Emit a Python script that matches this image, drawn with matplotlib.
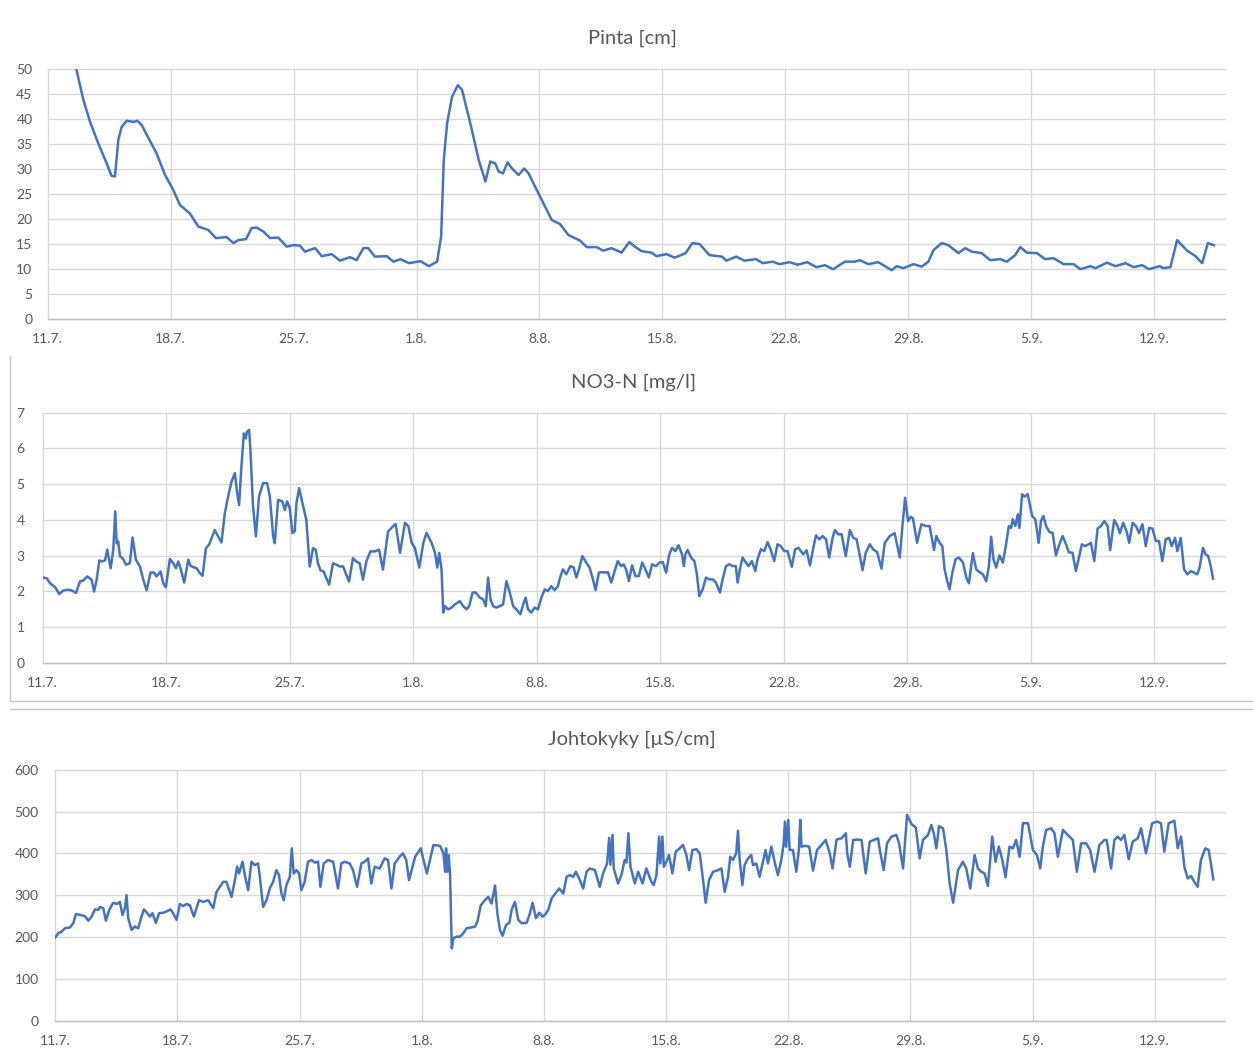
import matplotlib.pyplot as plt
from matplotlib.lines import Line2D

# days counted from 11.7.
tick_days = [0, 7, 14, 21, 28, 35, 42, 49, 56, 63]
tick_labels = ['11.7.', '18.7.', '25.7.', '1.8.', '8.8.', '15.8.', '22.8.', '29.8.', '5.9.', '12.9.']

pinta_day = [1.61, 2.03, 2.41, 2.88, 3.36, 3.64, 3.83, 4.02, 4.21, 4.50, 4.88, 5.10, 5.35, 5.64,
             6.20, 6.68, 7.15, 7.53, 8.10, 8.58, 9.15, 9.58, 10.19, 10.57, 10.85, 11.29, 11.61,
             11.90, 12.28, 12.66, 13.13, 13.61, 13.98, 14.36, 14.65, 15.22, 15.60, 16.17, 16.64,
             17.21, 17.59, 17.97, 18.25, 18.63, 19.30, 19.68, 20.09, 20.56, 21.23, 21.70, 22.17,
             22.40, 22.55, 22.74, 23.02, 23.35, 23.59, 24.06, 24.54, 24.92, 25.20, 25.48, 25.67,
             25.92, 26.18, 26.43, 26.81, 27.13, 27.38, 27.66, 28.23, 28.70, 29.17, 29.65, 30.31,
             30.69, 31.25, 31.63, 32.10, 32.67, 33.11, 33.43, 33.81, 34.38, 34.66, 35.23, 35.70,
             36.32, 36.70, 37.12, 37.68, 38.40, 38.63, 39.20, 39.67, 40.33, 40.71, 41.28, 41.66,
             42.23, 42.70, 43.24, 43.77, 44.25, 44.72, 45.39, 45.96, 46.24, 46.72, 47.29, 48.05,
             48.33, 48.71, 49.29, 49.76, 50.14, 50.43, 50.90, 51.28, 51.85, 52.23, 52.61, 53.18,
             53.66, 54.23, 54.61, 55.08, 55.37, 55.75, 56.32, 56.79, 57.27, 57.84, 58.41, 58.79,
             59.36, 59.65, 60.31, 60.79, 61.36, 61.83, 62.31, 62.69, 63.32, 63.51, 63.92, 64.30,
             64.87, 65.35, 65.73, 66.05, 66.40]
pinta_cm = [50.2, 43.8, 39.4, 35.1, 31.1, 28.6, 28.5, 35.8, 38.4, 39.6, 39.4, 39.6, 38.8, 36.8,
            33.1, 28.8, 25.8, 22.8, 21.1, 18.5, 17.8, 16.2, 16.4, 15.2, 15.8, 16.0, 18.2,
            18.3, 17.5, 16.2, 16.3, 14.5, 14.8, 14.7, 13.5, 14.2, 12.6, 13.0, 11.7,
            12.4, 11.8, 14.2, 14.2, 12.5, 12.6, 11.5, 12.0, 11.2, 11.6, 10.6, 11.5,
            16.5, 31.8, 39.1, 44.4, 46.7, 45.8, 39.1, 31.8, 27.5, 31.5, 31.1, 29.5,
            29.1, 31.3, 30.1, 28.8, 30.1, 29.1, 27.1, 23.1, 19.8, 19.0, 16.8, 15.7,
            14.4, 14.4, 13.7, 14.2, 13.3, 15.4, 14.5, 13.6, 13.3, 12.6, 13.0, 12.3,
            13.2, 15.2, 15.0, 12.8, 12.5, 11.7, 12.5, 11.7, 12.0, 11.2, 11.5, 11.0,
            11.4, 10.9, 11.4, 10.4, 10.8, 10.0, 11.5, 11.5, 11.8, 11.0, 11.4, 9.8,
            10.6, 10.2, 11.0, 10.5, 11.5, 13.8, 15.2, 14.8, 13.2, 14.2, 13.5, 13.2,
            11.8, 12.0, 11.5, 12.8, 14.4, 13.3, 13.2, 12.0, 12.2, 11.0, 11.0, 10.0,
            10.6, 10.2, 11.3, 10.6, 11.2, 10.4, 10.8, 10.0, 10.6, 10.2, 10.4, 15.8,
            13.7, 12.6, 11.2, 15.2, 14.8]

no3_day = [0.00, 0.23, 0.42, 0.70, 0.94, 1.17, 1.45, 1.64, 1.89, 2.11, 2.30, 2.53, 2.77, 2.91,
           3.06, 3.21, 3.34, 3.53, 3.66, 3.85, 4.00, 4.11, 4.19, 4.28, 4.38, 4.53, 4.72, 4.94,
           5.09, 5.28, 5.51, 5.70, 5.89, 6.11, 6.30, 6.45, 6.68, 6.83, 6.98, 7.21, 7.40, 7.55,
           7.68, 7.81, 8.02, 8.25, 8.38, 8.53, 8.72, 8.91, 9.06, 9.25, 9.43, 9.57, 9.75, 9.94,
           10.13, 10.32, 10.51, 10.70, 10.89, 11.02, 11.13, 11.26, 11.40, 11.51, 11.58, 11.70,
           11.77, 11.92, 12.08, 12.26, 12.49, 12.72, 12.87, 13.06, 13.15, 13.34, 13.58, 13.72,
           13.85, 14.00, 14.15, 14.28, 14.38, 14.53, 14.72, 14.94, 15.13, 15.32, 15.47, 15.60,
           15.74, 15.92, 16.08, 16.23, 16.45, 16.64, 16.83, 17.02, 17.25, 17.36, 17.58, 17.77,
           17.96, 18.15, 18.34, 18.57, 18.81, 19.06, 19.28, 19.57, 19.85, 20.00,
           20.25, 20.53, 20.72, 20.91, 21.09, 21.34, 21.57, 21.75, 22.04, 22.23, 22.36, 22.47,
           22.60, 22.70, 22.79, 22.98, 23.17, 23.36, 23.64, 23.83, 24.02, 24.17, 24.36, 24.54,
           24.77, 24.96, 25.11, 25.24, 25.38, 25.52, 25.71, 25.90, 26.09, 26.28, 26.47, 26.66,
           26.84, 27.07, 27.26, 27.37, 27.50, 27.69, 27.88, 28.07, 28.26, 28.45, 28.63, 28.82,
           29.01, 29.20, 29.29, 29.48, 29.67, 29.90, 30.09, 30.24, 30.39, 30.58, 30.80, 30.99,
           31.18, 31.33, 31.52, 31.71, 31.90, 32.03, 32.22, 32.41, 32.59, 32.78, 32.91, 33.06,
           33.22, 33.40, 33.59, 33.78, 33.97, 34.20, 34.35, 34.53, 34.76, 34.95, 35.14, 35.33,
           35.51, 35.67, 35.85, 36.04, 36.23, 36.33, 36.42, 36.55, 36.74, 36.93, 37.06, 37.21,
           37.40, 37.59, 37.78, 37.97, 38.15, 38.38, 38.53, 38.72, 38.91, 39.10, 39.28, 39.38,
           39.51, 39.66, 39.85, 40.00, 40.19, 40.38, 40.51, 40.70, 40.89, 41.08, 41.26, 41.45,
           41.64, 41.83, 42.02, 42.21, 42.45, 42.64, 42.83,
           43.10, 43.29, 43.48, 43.67, 43.82, 44.01, 44.20, 44.39, 44.57, 44.76, 44.89, 45.08,
           45.27, 45.51, 45.74, 45.93, 46.12, 46.31, 46.46, 46.64, 46.87, 47.06, 47.29, 47.53,
           47.72, 48.00, 48.28, 48.57, 48.72, 48.87, 49.04, 49.19, 49.32, 49.55, 49.79, 50.04,
           50.26, 50.51, 50.64, 50.83, 50.98, 51.11, 51.26, 51.39, 51.55, 51.73, 51.92, 52.15,
           52.34, 52.49, 52.71, 52.90, 53.09, 53.28, 53.47, 53.62, 53.75, 53.88, 54.03, 54.22,
           54.41, 54.56, 54.75, 54.88, 54.97, 55.12, 55.26, 55.35, 55.50, 55.63, 55.82, 56.07,
           56.25, 56.44, 56.57, 56.71, 56.86, 57.05, 57.23, 57.42, 57.61, 57.80, 57.99, 58.14,
           58.36, 58.55, 58.70, 58.89, 59.08, 59.27, 59.40, 59.59, 59.78, 59.97, 60.16, 60.35,
           60.49, 60.72, 60.91, 61.04, 61.23, 61.42, 61.57, 61.76, 61.95, 62.13, 62.32, 62.51,
           62.70, 62.89, 63.08, 63.26, 63.45, 63.64, 63.83, 63.98, 64.17, 64.30, 64.49, 64.68,
           64.87, 65.06, 65.24, 65.43, 65.56, 65.75, 65.90, 66.05, 66.19, 66.32]
no3_mgl = [2.39, 2.37, 2.23, 2.12, 1.93, 2.03, 2.05, 2.03, 1.96, 2.28, 2.31, 2.42, 2.33, 2.00,
           2.33, 2.87, 2.84, 2.87, 3.17, 2.65, 3.17, 4.24, 3.35, 3.40, 2.98, 2.93, 2.75, 2.79,
           3.51, 2.89, 2.70, 2.33, 2.03, 2.53, 2.53, 2.42, 2.56, 2.23, 2.12, 2.91, 2.79, 2.65,
           2.84, 2.65, 2.25, 2.89, 2.72, 2.68, 2.65, 2.51, 2.44, 3.21, 3.31, 3.49, 3.72, 3.54,
           3.37, 4.19, 4.66, 5.07, 5.31, 4.75, 4.42, 5.49, 6.42, 6.28, 6.47, 6.52,
           5.96, 4.38, 3.54, 4.66, 5.03, 5.03, 4.66, 3.54, 3.35, 4.56, 4.52, 4.28,
           4.52, 4.33, 3.63, 3.68, 4.47, 4.89, 4.47, 4.00, 2.70, 3.21, 3.17, 2.79,
           2.59, 2.56, 2.37, 2.19, 2.79, 2.75, 2.70, 2.70, 2.42, 2.28, 2.93, 2.84,
           2.79, 2.33, 2.84, 3.12, 3.12, 3.17, 2.61, 3.68, 3.82, 3.89,
           3.08, 3.92, 3.83, 3.36, 3.22, 2.67, 3.36, 3.64, 3.36, 3.08, 2.67, 3.08,
           2.62, 1.41, 1.59, 1.50, 1.55, 1.64, 1.73, 1.59, 1.50, 1.59, 1.97, 1.97,
           1.83, 1.78, 1.59, 2.39, 1.78, 1.59, 1.55, 1.59, 1.64, 2.29, 1.97, 1.59,
           1.50, 1.36, 1.69, 1.83, 1.50, 1.41, 1.55, 1.50, 1.83, 2.06, 2.01, 2.15,
           2.04, 2.15, 2.34, 2.62, 2.48, 2.71, 2.67, 2.39, 2.62, 2.99, 2.81, 2.67,
           2.34, 2.04, 2.53, 2.54, 2.53, 2.54, 2.25, 2.57, 2.85, 2.71, 2.76, 2.62,
           2.29, 2.73, 2.43, 2.43, 2.81, 2.57, 2.39, 2.76, 2.71, 2.81, 2.82, 2.53,
           3.04, 3.22, 3.13, 3.29, 3.04, 2.71, 3.04, 3.16, 2.95, 2.85, 2.53, 1.87,
           2.06, 2.39, 2.34, 2.34, 2.25, 1.97, 2.34, 2.71, 2.76, 2.71, 2.71, 2.25,
           2.62, 2.95, 2.81, 2.71, 2.85, 2.57, 2.90, 3.18, 3.13, 3.38, 3.16, 2.85,
           3.32, 3.27, 3.13, 3.13, 2.69, 3.18, 3.22,
           3.04, 3.15, 2.73, 3.22, 3.57, 3.46, 3.55, 3.46, 2.95, 3.50, 3.72, 3.60,
           3.60, 2.99, 3.72, 3.50, 3.46, 2.99, 2.60, 3.08, 3.32, 3.18, 3.10, 2.64,
           3.36, 3.55, 3.63, 2.95, 3.83, 4.62, 3.97, 4.09, 4.04, 3.36, 3.88, 3.83,
           3.83, 3.16, 3.55, 3.36, 3.27, 2.62, 2.29, 2.06, 2.53, 2.90, 2.95, 2.81,
           2.39, 2.23, 3.07, 2.62, 2.54, 2.48, 2.29, 2.71, 3.53, 2.90, 2.67, 3.01,
           2.81, 3.22, 3.83, 3.78, 4.02, 3.83, 4.16, 3.78, 4.72, 4.65, 4.72, 4.11,
           4.02, 3.36, 3.97, 4.11, 3.83, 3.66, 3.64, 3.01, 3.32, 3.55, 3.32, 3.10,
           3.08, 2.57, 2.90, 3.32, 3.27, 3.32, 3.36, 2.85, 3.76, 3.83, 3.97, 3.83,
           3.16, 4.00, 3.83, 3.63, 3.92, 3.69, 3.36, 3.92, 3.83, 3.64, 3.88, 3.27,
           3.78, 3.76, 3.41, 3.41, 2.85, 3.46, 3.50, 3.27, 3.50, 3.13, 3.50, 2.62,
           2.48, 2.57, 2.53, 2.48, 2.67, 3.22, 3.04, 2.99, 2.71, 2.36]

ec_day = [0.00, 0.17, 0.36, 0.55, 0.84, 1.03, 1.18, 1.41, 1.70, 1.89, 2.08, 2.27, 2.46, 2.56,
          2.75, 2.90, 3.09, 3.32, 3.55, 3.70, 3.85, 3.99, 4.08, 4.18, 4.37, 4.56, 4.75, 4.94,
          5.08, 5.27, 5.42, 5.57, 5.76, 5.95, 6.18, 6.37, 6.60, 6.75, 6.95, 7.14, 7.33, 7.52,
          7.71, 7.94, 8.09, 8.24, 8.47, 8.76, 9.05, 9.24, 9.43, 9.62, 9.81, 10.10, 10.29, 10.42,
          10.53, 10.73, 10.86, 11.05, 11.24, 11.43, 11.62, 11.72, 11.91, 12.10, 12.29, 12.48,
          12.67, 12.82, 12.96, 13.09, 13.24, 13.44, 13.55, 13.66, 13.82, 13.97, 14.10, 14.29,
          14.48, 14.68, 14.87, 15.06, 15.19, 15.38, 15.63, 15.92, 16.20, 16.39, 16.58, 16.87,
          17.06, 17.29, 17.54, 17.73, 17.92, 18.11, 18.30, 18.59, 18.87, 19.07, 19.26, 19.45,
          19.73, 19.92, 20.11, 20.27,
          20.62, 20.94, 21.29, 21.67, 22.05, 22.24, 22.34, 22.39, 22.47, 22.54, 22.62, 22.72,
          22.81, 23.00, 23.19, 23.38, 23.57, 23.86, 24.05, 24.19, 24.38, 24.62, 24.81, 25.00,
          25.20, 25.33, 25.48, 25.63, 25.83, 26.02, 26.15, 26.34, 26.53, 26.72, 27.01, 27.20,
          27.35, 27.54, 27.73, 27.92, 28.06, 28.25, 28.44, 28.63, 28.88, 29.11, 29.30, 29.49,
          29.68, 29.83, 30.06, 30.25, 30.44, 30.63, 30.92, 31.20, 31.39, 31.62, 31.74, 31.81,
          31.93, 32.00, 32.25, 32.44, 32.63, 32.73, 32.84, 32.96, 33.21, 33.40, 33.65, 33.87,
          34.16, 34.29, 34.45, 34.60, 34.67, 34.79, 34.87, 35.02, 35.17, 35.36, 35.55, 35.78,
          35.97, 36.16, 36.32, 36.51, 36.74, 36.93, 37.12, 37.27, 37.46, 37.69, 37.98, 38.17,
          38.36, 38.55, 38.68, 38.83, 39.02, 39.12, 39.21, 39.37, 39.50, 39.69, 39.88, 39.98,
          40.17, 40.36, 40.55, 40.70, 40.84, 41.03, 41.22, 41.41, 41.60, 41.73, 41.81, 41.88,
          42.00, 42.08, 42.27, 42.46, 42.61, 42.69, 42.76,
          42.95, 43.20, 43.42, 43.65, 43.90, 44.15, 44.38, 44.54, 44.77, 45.05, 45.30, 45.38,
          45.53, 45.72, 45.95, 46.20, 46.44, 46.67, 46.90, 47.15, 47.25, 47.47, 47.66, 47.91,
          48.20, 48.35, 48.58, 48.81, 49.06, 49.31, 49.53, 49.72, 50.01, 50.20, 50.34, 50.49,
          50.64, 50.87, 51.06, 51.25, 51.45, 51.73, 52.01, 52.20, 52.43, 52.68, 52.87, 53.06,
          53.25, 53.44, 53.69, 53.88, 54.07, 54.26, 54.45, 54.68, 54.87, 55.06, 55.26, 55.45,
          55.74, 56.02, 56.25, 56.44, 56.59, 56.78, 57.07, 57.26, 57.45, 57.74, 58.02, 58.31,
          58.54, 58.78, 59.07, 59.30, 59.55, 59.83, 60.12, 60.25, 60.50, 60.69, 60.88, 61.07,
          61.26, 61.51, 61.74, 62.03, 62.22, 62.50, 62.85, 63.14, 63.36, 63.55, 63.80, 64.13,
          64.32, 64.51, 64.70, 64.89, 65.08, 65.27, 65.46, 65.65, 65.90, 66.09, 66.22, 66.36]
ec_uscm = [199, 209, 213, 221, 223, 233, 255, 253, 250, 239, 249, 266, 265, 272,
           269, 239, 265, 282, 279, 284, 253, 269, 300, 245, 217, 225, 221, 249,
           266, 257, 249, 257, 234, 257, 258, 261, 266, 257, 241, 279, 274, 279,
           276, 249, 269, 288, 284, 288, 269, 308, 320, 332, 332, 296, 336, 368,
           352, 380, 348, 312, 380, 372, 376, 344, 272, 288, 316, 332,
           360, 348, 304, 288, 324, 344, 412, 352, 360, 352, 312, 332,
           380, 384, 378, 380, 320, 376, 384, 380, 316, 376, 380, 376,
           360, 320, 376, 380, 388, 328, 368, 364, 388, 384, 316, 376,
           392, 400, 384, 336,
           392, 412, 352, 420, 418, 400, 356, 412, 356, 396, 352, 173,
           197, 201, 201, 209, 221, 223, 225, 237, 276, 288, 296, 280,
           323, 257, 217, 203, 229, 234, 265, 284, 241, 233, 234, 257,
           282, 245, 258, 249, 253, 265, 292, 303, 316, 304, 344, 348,
           344, 356, 336, 316, 356, 364, 360, 320, 352, 376, 437, 373,
           444, 364, 328, 348, 384, 378, 448, 368, 328, 356, 328, 364,
           332, 324, 348, 440, 376, 440, 368, 380, 396, 352, 404, 412,
           420, 396, 360, 408, 410, 400, 336, 282, 336, 356, 360, 364,
           308, 344, 392, 384, 400, 454, 388, 324, 372, 388, 396, 372,
           376, 344, 380, 408, 376, 416, 380, 348, 384, 420, 476, 416,
           480, 408, 408, 356, 408, 480, 416,
           418, 416, 359, 408, 420, 432, 400, 364, 433, 436, 448, 400,
           368, 432, 433, 432, 352, 428, 432, 436, 408, 360, 424, 440,
           444, 424, 364, 492, 470, 462, 388, 432, 444, 468, 448, 412,
           465, 460, 408, 328, 282, 360, 380, 364, 316, 396, 364, 356,
           352, 322, 440, 380, 416, 386, 343, 416, 412, 432, 392, 472,
           472, 408, 396, 364, 416, 456, 460, 448, 392, 456, 444, 432,
           356, 424, 424, 408, 356, 420, 432, 432, 364, 432, 440, 432,
           444, 386, 428, 436, 460, 400, 472, 476, 472, 404, 472, 478,
           412, 440, 368, 340, 346, 332, 320, 384, 412, 408, 376, 338]

W, H = 1253, 1050
fig = plt.figure(figsize=(W / 100, H / 100), dpi=100)
plt.rcParams['font.family'] = ['Lato', 'DejaVu Sans']

txt = '#595959'
grid = '#D9D9D9'
blue = '#4472C4'


def panel(left, top, right, bottom, x, y, ymax, ystep, title, title_x, ypad):
    ax = fig.add_axes([left / W, 1 - bottom / H, (right - left) / W, (bottom - top) / H])
    ax.plot(x, y, color=blue, lw=1.8, solid_joinstyle='round')
    ax.set_xlim(0, 67)
    ax.set_ylim(0, ymax)
    ax.set_xticks(tick_days)
    ax.set_xticklabels(tick_labels)
    ax.set_yticks(range(0, ymax + 1, ystep))
    ax.grid(True, color=grid, lw=1.0)
    for gl in ax.get_xgridlines() + ax.get_ygridlines():
        gl.set_clip_on(False)
    ax.set_axisbelow(True)
    for s in ['top', 'right', 'left']:
        ax.spines[s].set_visible(False)
    ax.spines['bottom'].set_color('#BFBFBF')
    ax.spines['bottom'].set_linewidth(1.0)
    ax.tick_params(length=0, colors=txt, labelsize=10)
    ax.tick_params(axis='x', pad=10)
    ax.tick_params(axis='y', pad=ypad)
    ax.set_title(title, color=txt, fontsize=14.5, pad=18,
                 x=(title_x - left) / (right - left))
    return ax


panel(47.7, 68.7, 1224.5, 319.3, pinta_day, pinta_cm, 50, 5, 'Pinta [cm]', 632, 11)
panel(42.7, 412.7, 1225.0, 663.0, no3_day, no3_mgl, 7, 1, 'NO3-N [mg/l]', 634, 13)
panel(55.3, 769.7, 1224.5, 1020.7, ec_day, ec_uscm, 600, 100, 'Johtokyky [µS/cm]', 632, 12)


def fline(x0, y0, x1, y1):
    fig.add_artist(Line2D([x0 / W, x1 / W], [1 - y0 / H, 1 - y1 / H],
                          color='#C8C8C8', lw=1.0))


# frame around the middle chart, and the top edge of the lower one
fline(10, 356, 10, 701)
fline(10, 701, W, 701)
fline(10, 709, W, 709)

fig.savefig('out.png', dpi=100)
